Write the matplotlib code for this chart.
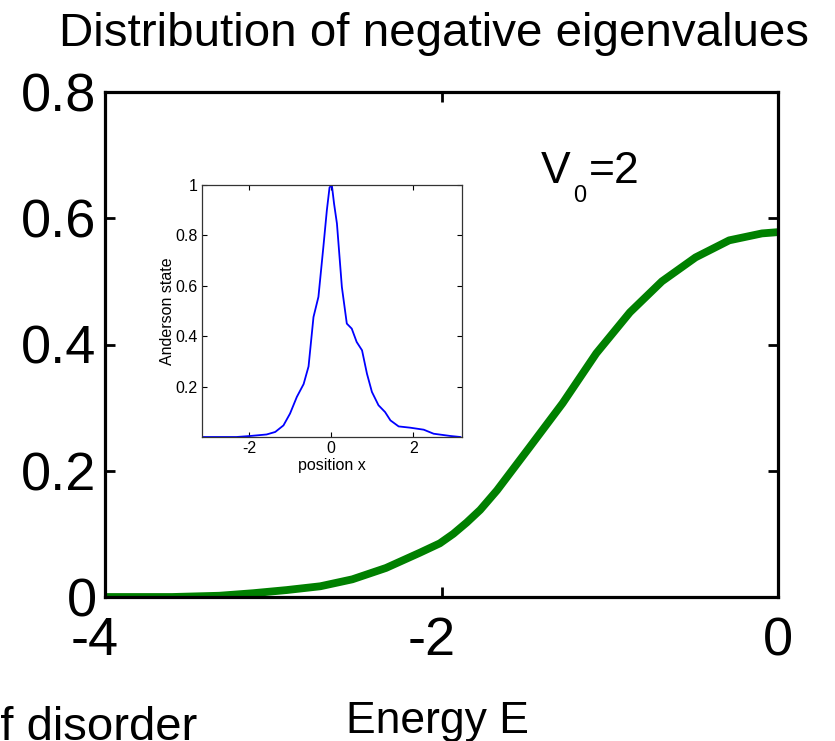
import matplotlib
matplotlib.use("Agg")
import matplotlib.pyplot as plt
import matplotlib.transforms as mtransforms

SANS = "Liberation Sans"
plt.rcParams["axes.unicode_minus"] = False

# Main curve: distribution of negative eigenvalues
energy = [-4.0, -3.6, -3.32, -3.12, -2.92, -2.72, -2.53, -2.33, -2.13, -2.01, -1.93,
          -1.85, -1.77, -1.67, -1.48, -1.28, -1.08, -0.88, -0.69, -0.49, -0.29,
          -0.095, 0.0]
density = [0.0, 0.0, 0.002, 0.006, 0.011, 0.017, 0.028, 0.046, 0.07, 0.085, 0.100,
           0.118, 0.138, 0.169, 0.236, 0.307, 0.386, 0.451, 0.50, 0.538, 0.565,
           0.576, 0.578]

# Inset: Anderson state
pos_x = [-3.14, -2.3, -1.97, -1.57, -1.36, -1.16, -1.0, -0.835, -0.67, -0.55, -0.43, -0.31,
         -0.19, -0.105, -0.04, 0.016, 0.07, 0.14, 0.26, 0.38, 0.50, 0.62, 0.75, 0.87,
         0.99, 1.15, 1.31, 1.44, 1.64, 1.92, 2.25, 2.49, 2.9, 3.14]
state = [0.0, 0.0, 0.004, 0.01, 0.02, 0.046, 0.093, 0.159, 0.21, 0.28, 0.476, 0.556,
         0.754, 0.90, 0.99, 1.0, 0.926, 0.847, 0.595, 0.45, 0.43, 0.377, 0.344, 0.251,
         0.179, 0.126, 0.099, 0.066, 0.042, 0.037, 0.029, 0.013, 0.004, 0.0]

main_xticks = [-4, -2, 0]
main_yticks = [0, 0.2, 0.4, 0.6, 0.8]
inset_xticks = [-2, 0, 2]
inset_yticks = [0.2, 0.4, 0.6, 0.8, 1]

W, H = 835, 741
fig = plt.figure(figsize=(W / 100, H / 100), dpi=100)


def fx(px):
    return px / W


def fy(py):
    return 1 - py / H


ax = fig.add_axes([fx(105), fy(597), (778 - 105) / W, (597 - 92) / H])
ax.plot(energy, density, color="#008000", lw=5.6, solid_capstyle="butt",
        solid_joinstyle="round")
ax.set_xlim(-4, 0)
ax.set_ylim(0, 0.8)
ax.set_xticks(main_xticks)
ax.set_yticks(main_yticks)
ax.set_xticklabels([f"{t:g}" for t in main_xticks])
ax.set_yticklabels([f"{t:g}" for t in main_yticks])
for s in ax.spines.values():
    s.set_linewidth(2.3)
    s.set_color("black")
ax.tick_params(direction="in", length=7, width=2, top=True, right=True,
               labelsize=39)
ax.tick_params(axis="x", pad=14)
ax.tick_params(axis="y", pad=6)
shift = mtransforms.ScaledTranslation(-10 / 100, 0, fig.dpi_scale_trans)
for lab in ax.get_xticklabels() + ax.get_yticklabels():
    lab.set_fontfamily(SANS)
for lab, t in zip(ax.get_xticklabels(), main_xticks):
    if t < 0:
        lab.set_transform(lab.get_transform() + shift)

# V_0 = 2 annotation
fig.text(fx(541), fy(183), "V", fontsize=32, family=SANS, ha="left", va="baseline")
fig.text(fx(573), fy(202), "0", fontsize=17, family=SANS, ha="left", va="baseline")
fig.text(fx(589), fy(183), "=2", fontsize=32, family=SANS, ha="left", va="baseline")

fig.text(fx(434), fy(46), "Distribution of negative eigenvalues", fontsize=34.2,
         family=SANS, ha="center", va="baseline")
fig.text(fx(437), fy(733), "Energy E", fontsize=32, family=SANS,
         ha="center", va="baseline")
fig.text(fx(197), fy(740), "of disorder", fontsize=34, family=SANS,
         ha="right", va="baseline")

ins = fig.add_axes([fx(202), fy(437), (462 - 202) / W, (437 - 185) / H])
ins.plot(pos_x, state, color="#0000ff", lw=1.3)
ins.set_xlim(-3.14, 3.18)
ins.set_ylim(0, 1)
ins.set_xticks(inset_xticks)
ins.set_yticks(inset_yticks)
ins.set_xticklabels([f"{t:g}" for t in inset_xticks])
ins.set_yticklabels([f"{t:g}" for t in inset_yticks])
for s in ins.spines.values():
    s.set_linewidth(0.9)
    s.set_color("#333333")
ins.tick_params(direction="in", length=3.5, width=0.8, top=True, right=True,
                labelsize=11.5, pad=3)
for lab in ins.get_xticklabels() + ins.get_yticklabels():
    lab.set_fontfamily(SANS)
ins.set_xlabel("position x", fontsize=11.5, family=SANS, labelpad=1)
ins.set_ylabel("Anderson state", fontsize=11.5, family=SANS, labelpad=0)

fig.savefig("out.png", dpi=100)
